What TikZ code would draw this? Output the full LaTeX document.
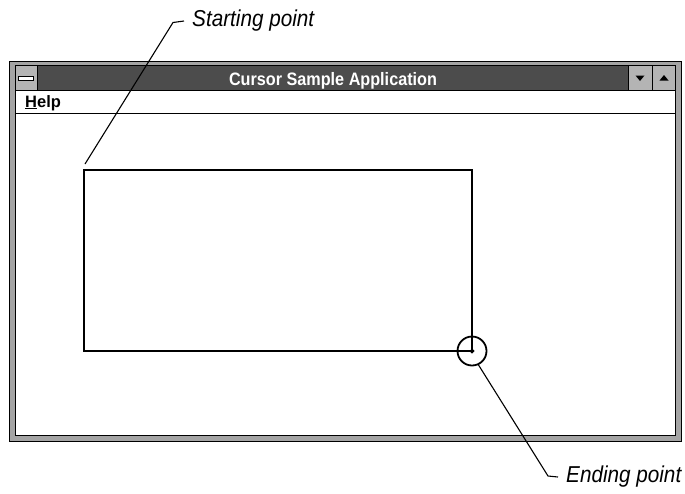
\documentclass[tikz,border=0pt]{standalone}
\usepackage{fontspec}
\setmainfont{Liberation Sans}
\newfontfamily\narrowfont[FakeStretch=0.9]{Liberation Sans}
\usetikzlibrary{calc}

\definecolor{titlegray}{HTML}{4C4C4C}
\definecolor{framegray}{HTML}{A4A4A4}
\definecolor{btngray}{HTML}{B4B4B4}

\begin{document}
\begin{tikzpicture}[x=1pt,y=-1pt,
  edge/.style={draw=black,line width=0.8pt},
  leader/.style={draw=black,line width=1.1pt},
  callout/.style={font=\narrowfont\itshape\fontsize{23}{26}\selectfont,anchor=west,inner xsep=8pt,inner ysep=0pt},
  titletext/.style={text=white,font=\narrowfont\bfseries\fontsize{18}{20}\selectfont,anchor=base,inner sep=0pt},
  menutext/.style={font=\bfseries\fontsize{16.5}{18}\selectfont,anchor=base west,inner sep=0pt}]
\useasboundingbox (0,0) rectangle (685,493);

% window frame and client area
\fill[framegray] (9,61) rectangle (681,441);
\draw[edge] (9,61) rectangle (681,441);
\fill[white] (15,90) rectangle (675,435);

% caption bar
\fill[titlegray] (15,65) rectangle (675,90);
\node[titletext] (title) at (333,85) {Cursor Sample Application};

% system menu box
\fill[btngray] (15,65) rectangle (37,90);
\draw[edge] (37,65) -- (37,90);
\draw[edge,fill=white] (18,76.5) rectangle (33,80.5);

% minimize / maximize buttons
\fill[btngray] (628,65) rectangle (675,90);
\draw[edge] (628,65) -- (628,90);
\draw[edge] (652.5,65) -- (652.5,90);
\fill[black] (635.5,75.5) -- (644.5,75.5) -- (640,81) -- cycle;
\fill[black] (659.5,80.5) -- (668.5,80.5) -- (664,75) -- cycle;

\draw[edge] (15,65) rectangle (675,435);
\draw[edge] (15,90) -- (675,90);

% menu bar
\node[menutext] (menu) at (25,107) {\underline{H}elp};
\draw[edge] (15,113.5) -- (675,113.5);

% rubber-band rectangle and cursor
\draw[line width=1.2pt] (84,170) rectangle (472,351);
\node[circle,draw,line width=1.8pt,minimum size=29pt,inner sep=0pt] (endcirc) at (472,351) {};
\draw[line width=1pt] (472,351) circle (1.8);

% callouts
\coordinate (startpt) at (85,164);
\node[callout] (startlbl) at (184,21) {Starting point};
\draw[leader] (startpt) -- (173,22.5) -- (startlbl.west);

\node[callout] (endlbl) at (558,477) {Ending point};
\draw[leader] (endcirc.-65) -- (548,476) -- (endlbl.west);
\end{tikzpicture}
\end{document}
